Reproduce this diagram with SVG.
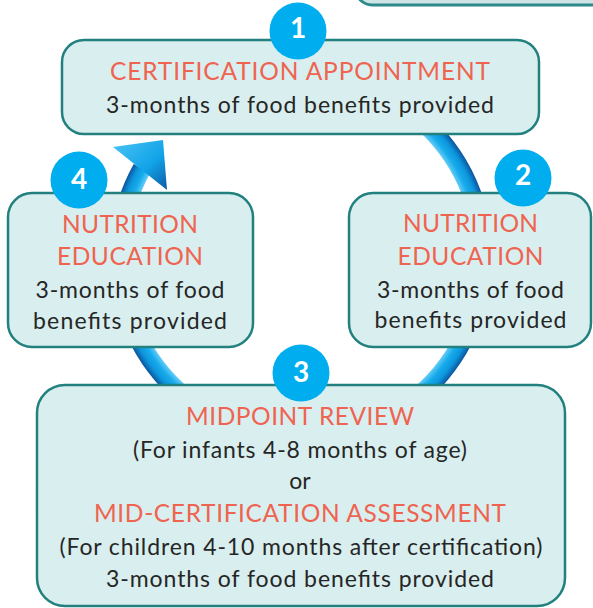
<svg xmlns="http://www.w3.org/2000/svg" width="593" height="608" viewBox="0 0 593 608">
<defs>
<radialGradient id="ring" gradientUnits="userSpaceOnUse" cx="301" cy="257" r="192">
<stop offset="0.895" stop-color="#6fd0f7"/>
<stop offset="0.93" stop-color="#17acec"/>
<stop offset="0.965" stop-color="#0d95dc"/>
<stop offset="1" stop-color="#0b4f98"/>
</radialGradient>
<linearGradient id="head" x1="0" y1="0" x2="1" y2="1">
<stop offset="0" stop-color="#4cc4f4"/>
<stop offset="0.6" stop-color="#11a3e8"/>
<stop offset="1" stop-color="#0b5aa4"/>
</linearGradient>
<style>
.box{fill:#d9eeee;stroke:#22817f;stroke-width:2.5}
.num{fill:#00aeef}
.nt{fill:#ffffff;font-family:"Lato","Liberation Sans",sans-serif;font-weight:bold;font-size:28px;text-anchor:middle}
.r{fill:#ef6450;font-family:"Lato","Liberation Sans",sans-serif;font-size:24.5px;text-anchor:middle}
.k{fill:#262626;font-family:"Lato","Liberation Sans",sans-serif;font-size:23px;text-anchor:middle}
</style>
</defs>
<g id="connectors">
<path d="M 301 75 A 182 182 0 1 1 142 168.5" fill="none" stroke="url(#ring)" stroke-width="19"/>
<polygon points="113,147 163,140 167,190" fill="url(#head)"/>
</g>
<g id="top-right-box">
<rect x="356" y="-40" width="260" height="45" rx="16" fill="#cfe4e4" stroke="#2e8a8a" stroke-width="3"/>
</g>
<g id="node1">
<rect class="box" x="62" y="40" width="477" height="94" rx="22"/>
<text class="r" x="300" y="80" textLength="380">CERTIFICATION APPOINTMENT</text>
<text class="k" x="300" y="113" textLength="388">3-months of food benefits provided</text>
</g>
<g id="node4">
<rect class="box" x="8" y="193" width="245" height="154" rx="24"/>
<text class="r" x="130" y="233" textLength="136">NUTRITION</text>
<text class="r" x="130" y="265" textLength="146">EDUCATION</text>
<text class="k" x="130" y="298" textLength="189">3-months of food</text>
<text class="k" x="130" y="329" textLength="194">benefits provided</text>
</g>
<g id="node2">
<rect class="box" x="349" y="193" width="242" height="154" rx="24"/>
<text class="r" x="470.5" y="232" textLength="135">NUTRITION</text>
<text class="r" x="470.5" y="265" textLength="146">EDUCATION</text>
<text class="k" x="470.5" y="298" textLength="187">3-months of food</text>
<text class="k" x="470.5" y="328" textLength="192">benefits provided</text>
</g>
<g id="node3">
<rect class="box" x="37" y="385" width="528" height="221" rx="28"/>
<text class="r" x="300" y="425" textLength="228">MIDPOINT REVIEW</text>
<text class="k" x="300" y="458" textLength="334">(For infants 4-8 months of age)</text>
<text class="k" x="300" y="489">or</text>
<text class="r" x="300" y="522" textLength="412">MID-CERTIFICATION ASSESSMENT</text>
<text class="k" x="301" y="555" textLength="483">(For children 4-10 months after certification)</text>
<text class="k" x="300" y="587" textLength="388">3-months of food benefits provided</text>
</g>
<g id="badge1">
<circle class="num" cx="298" cy="31" r="28.5"/>
<text class="nt" x="298" y="38">1</text>
</g>
<g id="badge2">
<circle class="num" cx="523" cy="178" r="28.5"/>
<text class="nt" x="523" y="185">2</text>
</g>
<g id="badge3">
<circle class="num" cx="301" cy="373" r="28.5"/>
<text class="nt" x="301" y="382">3</text>
</g>
<g id="badge4">
<circle class="num" cx="79" cy="180" r="28.5"/>
<text class="nt" x="79" y="189">4</text>
</g>
</svg>
